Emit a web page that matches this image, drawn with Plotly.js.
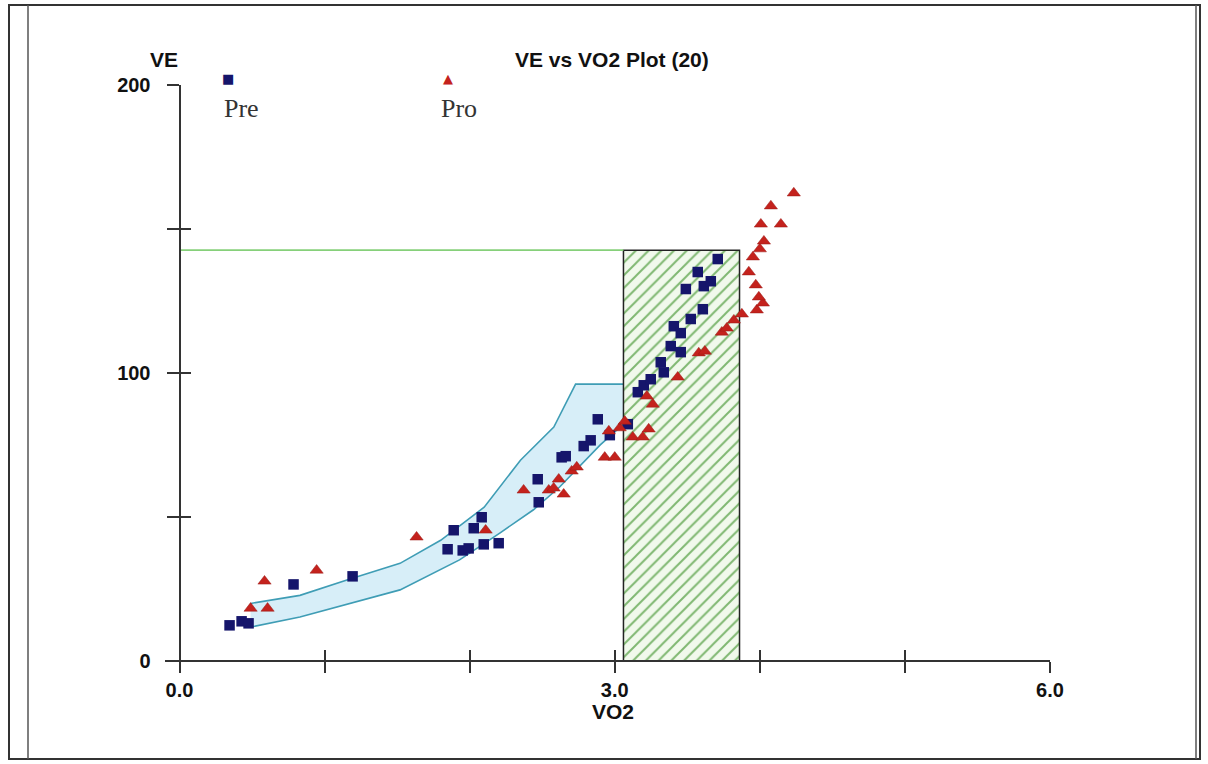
<!DOCTYPE html>
<html>
<head>
<meta charset="utf-8">
<script src="https://cdn.plot.ly/plotly-3.0.1.min.js"></script>
<style>
html,body{margin:0;padding:0;background:#fff;}
#chart{width:1208px;height:764px;}
</style>
</head>
<body>
<div id="chart"></div>
<script>
// ---- data ----
const preVO2 = [0.345,0.428,0.476,0.786,1.193,1.848,1.890,1.952,1.993,2.028,2.083,2.097,2.200,2.469,2.476,2.634,2.662,2.786,2.834,2.883,2.966,3.090,3.159,3.200,3.248,3.317,3.338,3.386,3.455,3.407,3.455,3.524,3.607,3.490,3.572,3.614,3.662,3.710];
const preVE  = [12.5,13.9,13.2,26.7,29.5,38.9,45.5,38.5,39.2,46.2,50.0,40.6,41.0,63.2,55.2,70.8,71.2,74.7,76.7,84.0,78.5,82.3,93.4,95.8,97.9,103.8,100.3,109.4,107.3,116.3,113.9,118.8,122.2,129.2,135.1,130.2,131.9,139.6];

const proVO2 = [0.490,0.586,0.607,0.945,1.634,2.110,2.372,2.545,2.579,2.648,2.614,2.703,2.738,2.931,3.000,2.959,3.034,3.069,3.124,3.193,3.234,3.262,3.221,3.434,3.579,3.621,3.738,3.772,3.821,3.876,3.979,4.021,3.993,3.972,3.924,3.952,4.000,4.028,4.007,4.145,4.076,4.234];
const proVE  = [18.4,27.8,18.4,31.6,43.1,45.5,59.4,59.4,60.1,58.0,63.2,66.0,67.4,70.8,70.8,79.9,81.0,83.3,77.8,77.8,80.6,89.2,92.0,98.6,107.0,107.6,114.2,115.6,118.4,120.5,121.9,124.3,126.4,130.6,135.1,140.3,143.1,145.8,151.7,151.7,158.0,162.5];

const bandUpperVO2 = [0.49,0.83,1.175,1.52,1.80,2.10,2.35,2.58,2.73,3.18];
const bandUpperVE  = [20.1,22.9,28.6,34.0,42.0,53.5,69.8,81.3,96.2,96.2];
const bandLowerVO2 = [0.49,0.83,1.18,1.52,1.93,2.21,2.44,2.62,2.90,3.17];
const bandLowerVE  = [11.9,15.4,20.1,24.8,35.2,44.6,52.6,60.5,75.1,87.3];

const thresholdVE = 142.7;
const zoneVO2 = [3.06, 3.86];

const xTickVals = [0,1,2,3,4,5,6];
const xTickText = ['0.0','','','3.0','','','6.0'];
const yTickVals = [0,50,100,150,200];
const yTickText = ['0','','100','','200'];

const legendLabels = ['Pre','Pro'];
const titleText = 'VE vs VO2 Plot (20)';

// ---- layout constants ----
const W = 1208, H = 764;
const M = {l:165, r:158, t:85, b:94};
const pw = W - M.l - M.r, ph = H - M.t - M.b;
const fx = px => (px - M.l) / pw;          // pixel -> paper x
const fy = py => (H - M.b - py) / ph;      // pixel -> paper y
const xRange = [-0.1, 6];
const yRange = [-3, 200];
const axisPos = (0 - yRange[0]) / (yRange[1] - yRange[0]);
const yAxisPos = (0 - xRange[0]) / (xRange[1] - xRange[0]);

const preColor = '#15156b';
const proColor = '#c4221d';
const sans = 'Liberation Sans, Arial, sans-serif';
const tickFont = {family:sans, size:20, color:'#111', weight:'bold'};
const boldFont = {family:sans, size:21, color:'#111', weight:'bold'};
const serifFont = {family:'Liberation Serif, Times New Roman, serif', size:26, color:'#333'};

// band polygon
const bandX = bandUpperVO2.concat(bandLowerVO2.slice().reverse());
const bandY = bandUpperVE.concat(bandLowerVE.slice().reverse());

const traces = [
  {type:'scatter', mode:'lines', x:bandX, y:bandY, fill:'toself',
   fillcolor:'#d7eef8', line:{color:'#3f9db5', width:1.6}, hoverinfo:'skip'},
  {type:'scatter', mode:'lines',
   x:[zoneVO2[0], zoneVO2[1], zoneVO2[1], zoneVO2[0], zoneVO2[0]],
   y:[0, 0, thresholdVE, thresholdVE, 0],
   fill:'toself', fillcolor:'#f0f8ea',
   fillpattern:{shape:'/', fgcolor:'#80b872', bgcolor:'#f1f9ec', size:9, solidity:0.22},
   line:{color:'#222', width:1.5}, hoverinfo:'skip'},
  {type:'scatter', mode:'lines', x:[0, zoneVO2[0]], y:[thresholdVE, thresholdVE],
   line:{color:'#86d07a', width:1.6}, hoverinfo:'skip'},
  {type:'scatter', mode:'markers', name:legendLabels[0], x:preVO2, y:preVE,
   marker:{symbol:'square', size:10.5, color:preColor}, hoverinfo:'x+y'},
  {type:'scatter', mode:'markers', name:legendLabels[1], x:proVO2, y:proVE,
   marker:{symbol:'triangle-up', size:11.5, color:proColor, line:{color:'#9a1a16', width:0.5}}, hoverinfo:'x+y'},
  // invisible trace for overlay axes (crossing ticks)
  {type:'scatter', mode:'markers', x:[preVO2[0]], y:[preVE[0]], xaxis:'x2', yaxis:'y2',
   marker:{opacity:0}, hoverinfo:'skip'}
];

function note(px, py, text, font){
  return {xref:'paper', yref:'paper', x:fx(px), y:fy(py), text:text, showarrow:false,
          xanchor:'center', yanchor:'middle', font:font};
}

const layout = {
  width:W, height:H, margin:M, showlegend:false,
  paper_bgcolor:'#ffffff', plot_bgcolor:'rgba(0,0,0,0)',
  xaxis:{range:xRange, anchor:'free', position:axisPos, showgrid:false, zeroline:false,
    showline:true, linecolor:'#333', linewidth:2,
    tickmode:'array', tickvals:xTickVals, ticktext:xTickText,
    ticks:'outside', ticklen:11, tickwidth:2, tickcolor:'#333', tickfont:tickFont},
  xaxis2:{range:xRange, overlaying:'x', anchor:'free', position:axisPos, showgrid:false, zeroline:false,
    showline:false, tickmode:'array', tickvals:xTickVals, showticklabels:false,
    ticks:'inside', ticklen:11, tickwidth:2, tickcolor:'#333'},
  yaxis:{range:yRange, anchor:'free', position:yAxisPos, showgrid:false, zeroline:false,
    showline:true, linecolor:'#333', linewidth:2,
    tickmode:'array', tickvals:yTickVals, ticktext:yTickText,
    ticks:'outside', ticklen:12, tickwidth:2, tickcolor:'#333', tickfont:tickFont,
    ticklabelstandoff:12},
  yaxis2:{range:yRange, overlaying:'y', anchor:'free', position:yAxisPos, showgrid:false, zeroline:false,
    showline:false, tickmode:'array', tickvals:yTickVals, showticklabels:false,
    ticks:'inside', ticklen:10, tickwidth:2, tickcolor:'#333'},
  annotations:[
    note(612, 60, titleText, boldFont),
    note(164, 60, 'VE', boldFont),
    note(613, 711, 'VO2', boldFont),
    note(241, 109, legendLabels[0], serifFont),
    note(459, 109, legendLabels[1], serifFont),
    note(228, 78, '■', {family:'DejaVu Sans', size:13, color:preColor}),
    note(448, 78, '▲', {family:'DejaVu Sans', size:13, color:proColor})
  ],
  shapes:[
    {type:'rect', xref:'paper', yref:'paper', x0:fx(9), x1:fx(1200), y0:fy(759), y1:fy(5),
     line:{color:'#333', width:2}},
    {type:'line', xref:'paper', yref:'paper', x0:fx(28), x1:fx(28), y0:fy(759), y1:fy(5),
     line:{color:'#555', width:1.5}},
    {type:'line', xref:'paper', yref:'paper', x0:fx(1196), x1:fx(1196), y0:fy(759), y1:fy(5),
     line:{color:'#555', width:1.5}}
  ]
};

Plotly.newPlot('chart', traces, layout, {displayModeBar:false, staticPlot:true});
</script>
</body>
</html>
